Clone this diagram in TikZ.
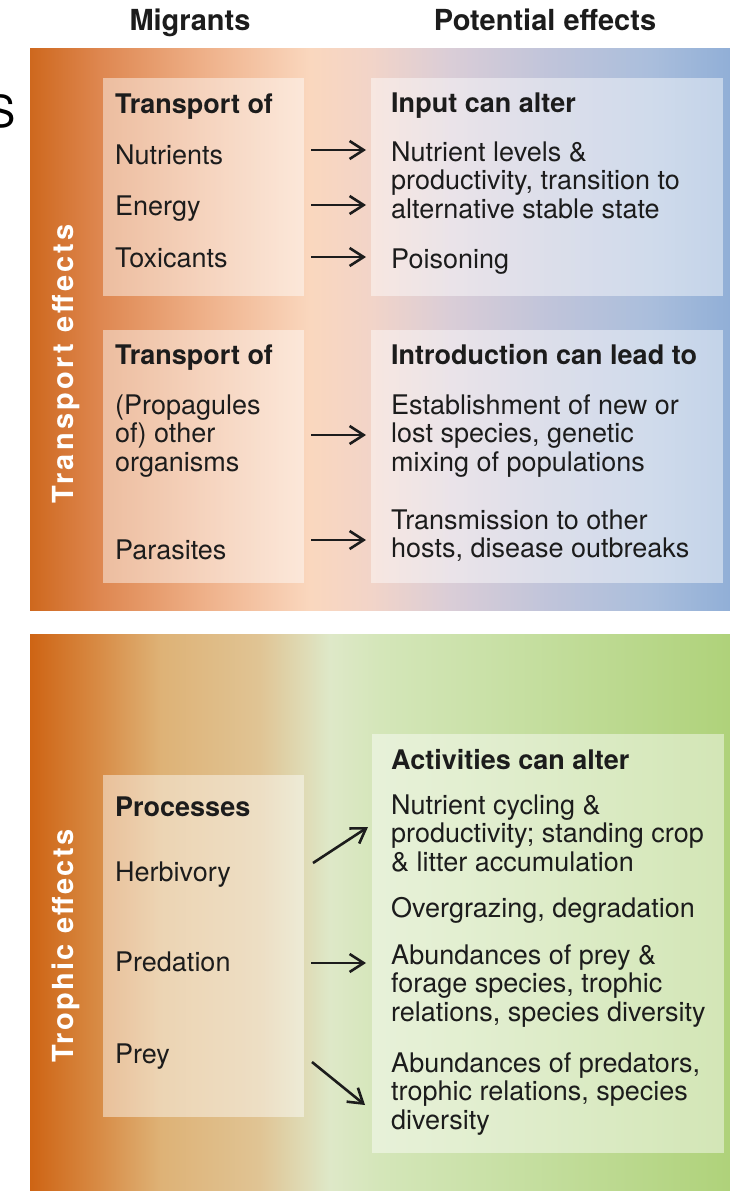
\documentclass[tikz,border=0pt]{standalone}
\usepackage{fontspec}
\setmainfont{TeX Gyre Heros}
\newfontfamily\vertfont[LetterSpace=8]{TeX Gyre Heros}
\newfontfamily\vertfontw[LetterSpace=11]{TeX Gyre Heros}
\usetikzlibrary{arrows.meta}
\definecolor{t0}{RGB}{206,104,30}
\definecolor{t1}{RGB}{222,135,80}
\definecolor{t2}{RGB}{238,175,135}
\definecolor{t3}{RGB}{250,215,190}
\definecolor{t4}{RGB}{242,212,200}
\definecolor{t5}{RGB}{218,205,215}
\definecolor{t6}{RGB}{192,196,218}
\definecolor{t7}{RGB}{170,190,220}
\definecolor{t8}{RGB}{145,175,215}
\definecolor{b0}{RGB}{206,100,20}
\definecolor{b1}{RGB}{216,140,70}
\definecolor{b2}{RGB}{222,178,118}
\definecolor{b3}{RGB}{224,196,148}
\definecolor{b4}{RGB}{222,232,200}
\definecolor{b5}{RGB}{212,230,185}
\definecolor{b6}{RGB}{200,224,165}
\definecolor{b7}{RGB}{175,210,122}
\definecolor{ink}{RGB}{28,28,28}
\pgfdeclarehorizontalshading{topshade}{100bp}{color(0bp)=(t0); color(25bp)=(t0); color(30bp)=(t1); color(37.14bp)=(t2); color(45bp)=(t3); color(49.3bp)=(t4); color(55bp)=(t5); color(62.1bp)=(t6); color(69.3bp)=(t7); color(75bp)=(t8); color(100bp)=(t8)}
\pgfdeclarehorizontalshading{botshade}{100bp}{color(0bp)=(b0); color(25bp)=(b0); color(30bp)=(b1); color(34.3bp)=(b2); color(41.4bp)=(b3); color(46.4bp)=(b4); color(50bp)=(b5); color(58.6bp)=(b6); color(75bp)=(b7); color(100bp)=(b7)}
\tikzset{
  txt/.style={anchor=base west, inner sep=0pt, text=ink, font=\fontsize{27}{28.5}\selectfont},
  hd/.style={txt, font=\fontsize{27}{28.5}\selectfont\bfseries},
  colhead/.style={anchor=base, inner sep=0pt, text=ink, font=\fontsize{29}{30}\selectfont\bfseries},
  vert/.style={rotate=90, anchor=base, inner sep=0pt, text=white, font=\vertfont\fontsize{29}{30}\selectfont\bfseries},
  vertw/.style={vert, font=\vertfontw\fontsize{29}{30}\selectfont\bfseries},
  inbox/.style={fill=white, fill opacity=0.45, draw=none},
  arr/.style={draw=ink, line width=2.6pt, -{Straight Barb[length=14pt,width=18pt]}}
}
\begin{document}
\begin{tikzpicture}[x=1pt,y=-1pt]
\useasboundingbox (0,0) rectangle (730,1191);
% panels
\path[shading=topshade] (30,48) rectangle (730,610);
\path[shading=botshade] (30,634) rectangle (730,1191);
% inner boxes
\path[inbox] (103,78) rectangle (304,296);
\path[inbox] (371,78) rectangle (723,296);
\path[inbox] (103,330) rectangle (304,583);
\path[inbox] (371,330) rectangle (723,583);
\path[inbox] (103,775) rectangle (304,1117);
\path[inbox] (372,734) rectangle (724,1153);
% stray letter
\node[anchor=base east, inner sep=0pt, text=black, font=\fontsize{44}{44}\selectfont] (s) at (16,127) {S};
% column headers
\node[colhead] (hmig) at (190,30) {Migrants};
\node[colhead] (hpot) at (545,30) {Potential effects};
% side labels
\node[vertw] (vtr) at (73,364) {Transport effects};
\node[vert] (vto) at (73,946) {Trophic effects};
% top row
\node[hd] (a0) at (115,113) {Transport of};
\node[txt] (a1) at (115,164) {Nutrients};
\node[txt] (a2) at (115,215) {Energy};
\node[txt] (a3) at (115,267) {Toxicants};
\node[hd] (r0) at (391,112) {Input can alter};
\node[txt] (r1) at (391,161) {Nutrient levels \&};
\node[txt] (r2) at (391,189.5) {productivity, transition to};
\node[txt] (r3) at (391,218) {alternative stable state};
\node[txt] (r4) at (391,268) {Poisoning};
% second row
\node[hd] (c0) at (115,364) {Transport of};
\node[txt] (c1) at (115,414) {(Propagules};
\node[txt] (c2) at (115,442.5) {of) other};
\node[txt] (c3) at (115,471) {organisms};
\node[txt] (c4) at (115,559) {Parasites};
\node[hd] (d0) at (391,364) {Introduction can lead to};
\node[txt] (d1) at (391,414) {Establishment of new or};
\node[txt] (d2) at (391,442.5) {lost species, genetic};
\node[txt] (d3) at (391,471) {mixing of populations};
\node[txt] (d4) at (391,529) {Transmission to other};
\node[txt] (d5) at (391,557.5) {hosts, disease outbreaks};
% bottom
\node[hd] (e0) at (115,816) {Processes};
\node[txt] (e1) at (115,881) {Herbivory};
\node[txt] (e2) at (115,971) {Predation};
\node[txt] (e3) at (115,1063) {Prey};
\node[hd] (f0) at (391,769) {Activities can alter};
\node[txt] (f1) at (391,814) {Nutrient cycling \&};
\node[txt] (f2) at (391,842.5) {productivity; standing crop};
\node[txt] (f3) at (391,871) {\& litter accumulation};
\node[txt] (f4) at (391,917) {Overgrazing, degradation};
\node[txt] (f5) at (391,964) {Abundances of prey \&};
\node[txt] (f6) at (391,992.5) {forage species, trophic};
\node[txt] (f7) at (391,1021) {relations, species diversity};
\node[txt] (f8) at (391,1072) {Abundances of predators,};
\node[txt] (f9) at (391,1100.5) {trophic relations, species};
\node[txt] (f10) at (391,1129) {diversity};
% arrow endpoints
\coordinate (p1s) at (311,150); \coordinate (p1e) at (366,150);
\coordinate (p2s) at (311,205); \coordinate (p2e) at (366,205);
\coordinate (p3s) at (311,257); \coordinate (p3e) at (366,257);
\coordinate (p4s) at (311,435); \coordinate (p4e) at (366,435);
\coordinate (p5s) at (311,540); \coordinate (p5e) at (366,540);
\coordinate (p6s) at (313,863); \coordinate (p6e) at (368,827);
\coordinate (p7s) at (311,963); \coordinate (p7e) at (366,963);
\coordinate (p8s) at (312,1062); \coordinate (p8e) at (365,1105);
\foreach \i in {1,...,8} \draw[arr] (p\i s) -- (p\i e);
\end{tikzpicture}
\end{document}
